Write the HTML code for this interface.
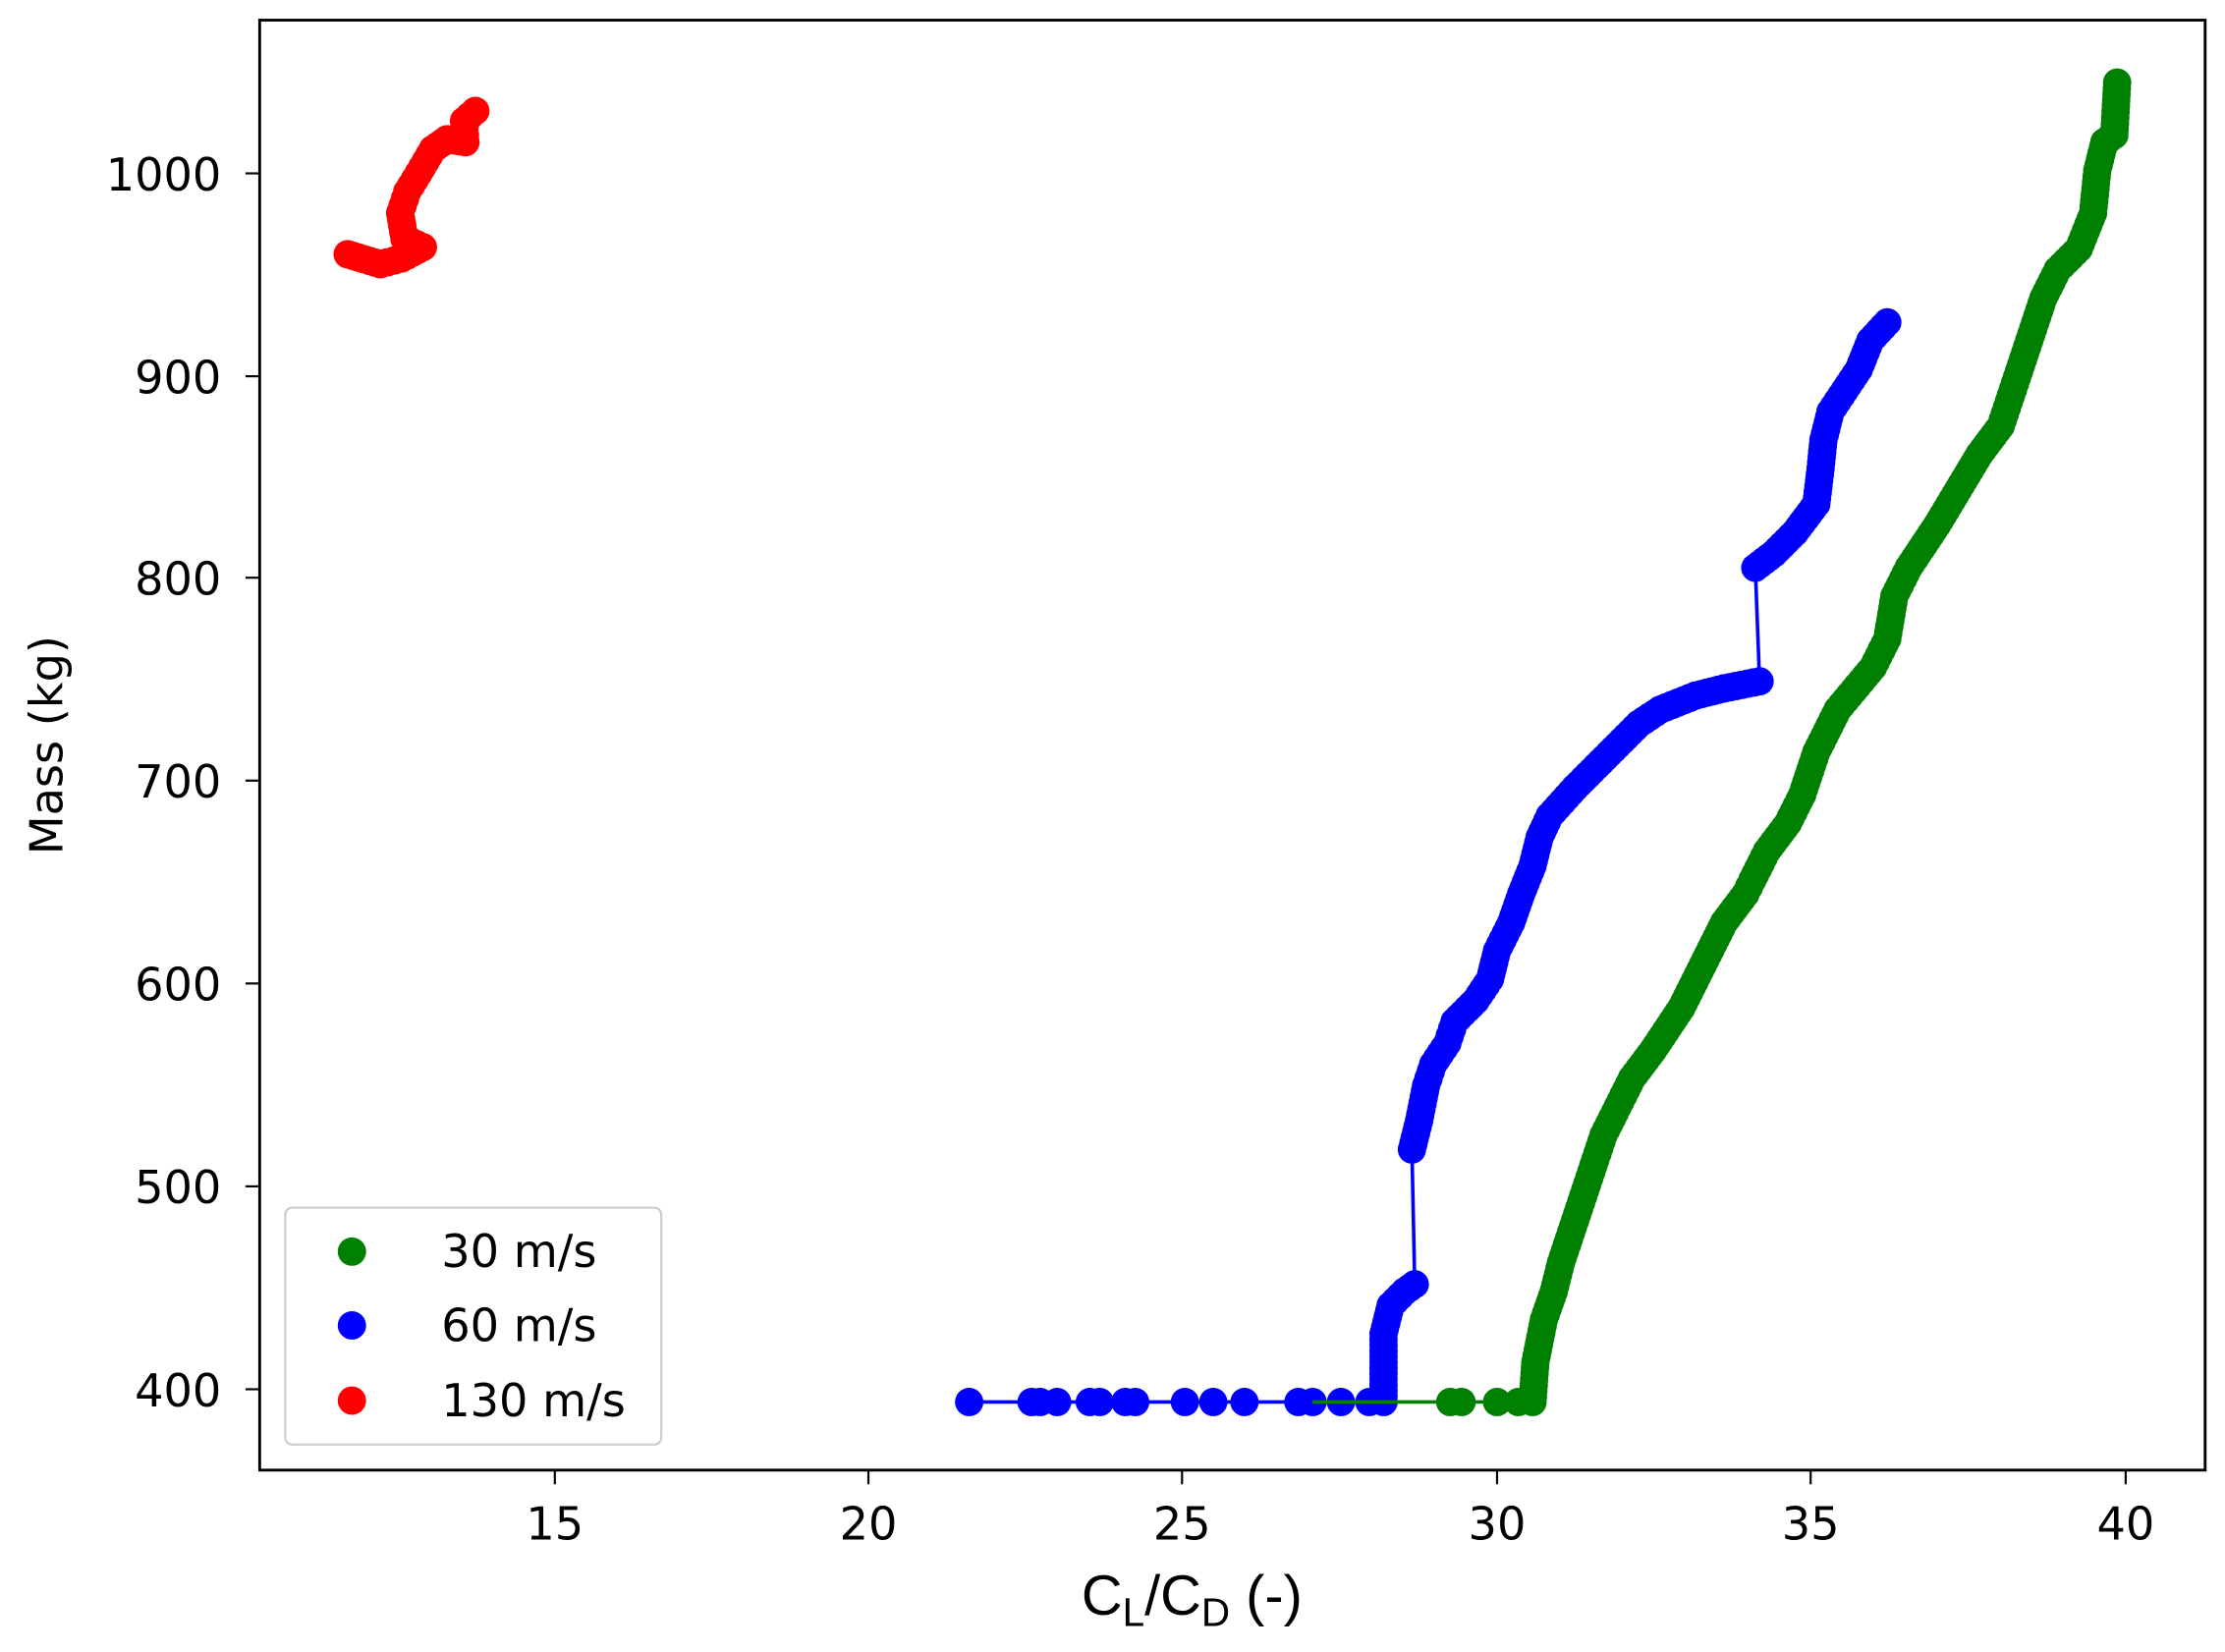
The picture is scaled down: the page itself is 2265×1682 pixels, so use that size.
<!DOCTYPE html>
<html><head><meta charset="utf-8"><style>
html,body{margin:0;padding:0;background:#fff;}
svg{display:block;}
text{font-family:"DejaVu Sans","Liberation Sans",sans-serif;fill:#000;}
</style></head><body>
<svg id="s" width="2265" height="1682" viewBox="0 0 1568 1164" xmlns="http://www.w3.org/2000/svg">
<rect x="0" y="0" width="1568" height="1164" fill="#fff"/>
<g id="data"></g>
<rect x="183" y="14" width="1371" height="1022" fill="none" stroke="#000" stroke-width="2"/>
<g stroke="#000" stroke-width="1.5">
<line x1="391" y1="1036" x2="391" y2="1046"/><line x1="612" y1="1036" x2="612" y2="1046"/>
<line x1="833" y1="1036" x2="833" y2="1046"/><line x1="1055" y1="1036" x2="1055" y2="1046"/>
<line x1="1276" y1="1036" x2="1276" y2="1046"/><line x1="1498" y1="1036" x2="1498" y2="1046"/>
<line x1="173" y1="122" x2="183" y2="122"/><line x1="173" y1="265" x2="183" y2="265"/>
<line x1="173" y1="407" x2="183" y2="407"/><line x1="173" y1="550" x2="183" y2="550"/>
<line x1="173" y1="693" x2="183" y2="693"/><line x1="173" y1="836" x2="183" y2="836"/>
<line x1="173" y1="979" x2="183" y2="979"/>
</g>
<g font-size="32" text-anchor="middle">
<text x="391" y="1085">15</text><text x="612" y="1085">20</text><text x="833" y="1085">25</text>
<text x="1055" y="1085">30</text><text x="1276" y="1085">35</text><text x="1498" y="1085">40</text>
</g>
<g font-size="32" text-anchor="end">
<text x="156" y="134">1000</text><text x="156" y="277">900</text><text x="156" y="419">800</text>
<text x="156" y="562">700</text><text x="156" y="705">600</text><text x="156" y="848">500</text>
<text x="156" y="991">400</text>
</g>
<text font-size="32" text-anchor="middle" transform="translate(44,525) rotate(-90)">Mass (kg)</text>
<text x="840" y="1138" font-size="40" text-anchor="middle" style="font-family:'Liberation Sans',sans-serif">C<tspan font-size="28" dy="8">L</tspan><tspan dy="-8">/C</tspan><tspan font-size="28" dy="8">D</tspan><tspan dy="-8"> (-)</tspan></text>
<rect x="201" y="851" width="265" height="167" rx="5" fill="#fff" fill-opacity="0.85" stroke="#ccc" stroke-width="1.5"/>
<circle cx="248" cy="882" r="10" fill="green"/>
<circle cx="248" cy="934" r="10" fill="blue"/>
<circle cx="248" cy="987" r="10" fill="red"/>
<g font-size="32"><text x="311" y="893">30 m/s</text><text x="311" y="945">60 m/s</text><text x="311" y="998">130 m/s</text></g>
</svg>
<script>
var g=document.getElementById('data');
function series(pts,col){
 var out='';var r=10;
 var p=pts.map(function(a){return a.join(',')}).join(' ');
 out+='<polyline points="'+p+'" fill="none" stroke="'+col+'" stroke-width="2.5"/>';
 for(var i=0;i<pts.length;i++){
  out+='<circle cx="'+pts[i][0]+'" cy="'+pts[i][1]+'" r="'+r+'" fill="'+col+'"/>';
  if(i<pts.length-1){
   var a=pts[i],b=pts[i+1],dx=b[0]-a[0],dy=b[1]-a[1],d=Math.sqrt(dx*dx+dy*dy);
   if(dy===0) continue;
   if(d<40){var n=Math.floor(d/4);for(var k=1;k<n;k++){out+='<circle cx="'+(a[0]+dx*k/n)+'" cy="'+(a[1]+dy*k/n)+'" r="'+r+'" fill="'+col+'"/>';}}
  }
 }
 return out;
}
var red=[[245,179],[268,186],[283,182],[298,174],[285,168],[282,150],[287,135],[295,122],[305,105],[315,98],[328,100],[327,85],[335,78]];
var blue=[[683,988],[727,988],[733,988],[745,988],[768,988],[775,988],[793,988],[800,988],[835,988],[855,988],[877,988],[915,988],[925,988],[945,988],[965,988],[975,988],[975,960],[975,940],[980,920],[990,910],[997,905],[995,810],[1000,790],[1005,765],[1010,750],[1020,735],[1025,720],[1040,705],[1050,690],[1055,670],[1065,650],[1072,630],[1080,610],[1085,590],[1092,575],[1110,555],[1125,540],[1140,525],[1155,510],[1170,500],[1195,490],[1215,485],[1240,480],[1237,400],[1250,390],[1265,375],[1280,355],[1283,330],[1285,310],[1290,290],[1300,275],[1310,260],[1318,240],[1330,227]];
var green=[[1022,988],[1030,988],[1055,988],[1070,988],[1080,988],[1082,960],[1088,930],[1095,910],[1100,890],[1110,860],[1120,830],[1130,800],[1140,780],[1150,760],[1165,740],[1185,710],[1200,680],[1215,650],[1230,630],[1235,620],[1245,600],[1260,580],[1270,560],[1280,530],[1295,500],[1320,470],[1330,450],[1335,420],[1345,400],[1365,370],[1380,345],[1395,320],[1410,300],[1420,270],[1430,240],[1440,210],[1450,190],[1465,175],[1475,150],[1478,120],[1483,100],[1490,95],[1492,58]];
var html=series(green,'green')+series(blue,'blue')+series(red,'red')+'<line x1="925" y1="988" x2="1022" y2="988" stroke="green" stroke-width="2.5"/>';
g.innerHTML=html;
</script>
</body></html>
